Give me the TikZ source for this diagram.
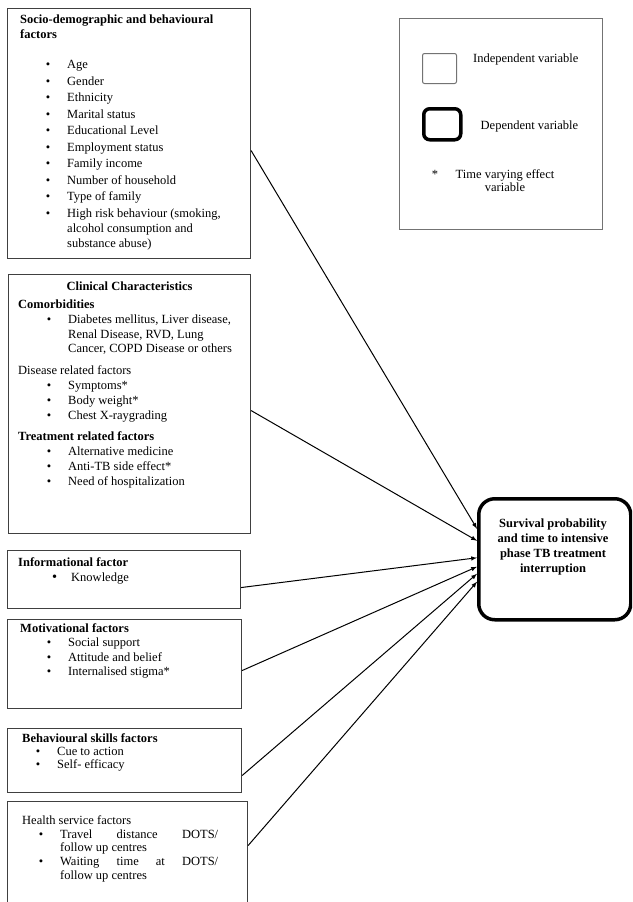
\documentclass[tikz,border=0pt]{standalone}
\usepackage{fontspec}
\setmainfont{Liberation Serif}
\usetikzlibrary{positioning,arrows}
\newcommand\hd[1]{\par\leftskip=0pt\noindent\textbf{#1}}
\newcommand\sh[1]{\par\leftskip=0pt\noindent#1}
\newcommand\bi[2][47pt]{\par\leftskip=#1\noindent\llap{\textbullet\hspace{17pt}}#2}
\tikzset{%
ibox/.style={draw=black!75,line width=1.1pt,anchor=north west,inner sep=0},
dbox/.style={draw,line width=3.5pt,rounded corners=16pt,anchor=north west,inner sep=0},
boxtext/.style={anchor=north west,inner sep=0},
link/.style={-latex,line width=1pt},
every node/.style={font=\fontsize{12.5}{15}\selectfont}
}
\begin{document}
\begin{tikzpicture}[x=1pt,y=-1pt]
  \useasboundingbox (0,0) rectangle (632,902);
  \clip (0,0) rectangle (632,902);

  % independent variables
  \node[ibox,minimum width=243pt,minimum height=250pt] (socio) at (7,8) {};
  \node[ibox,minimum width=242pt,minimum height=259pt] (clin) at (8,274) {};
  \node[ibox,minimum width=233pt,minimum height=58pt] (info) at (7,550) {};
  \node[ibox,minimum width=234pt,minimum height=89pt] (motiv) at (7,619) {};
  \node[ibox,minimum width=234pt,minimum height=64pt] (behav) at (7,728) {};
  \node[ibox,minimum width=240pt,minimum height=110pt] (health) at (7,801) {};

  \node[boxtext] (sociotxt) [below right=7pt and 13pt of socio.north west] {\parbox[t]{225pt}{\parskip=1.5pt
    \hd{Socio-demographic and behavioural\\factors}\par\vspace{13.5pt}
    \bi{Age}\bi{Gender}\bi{Ethnicity}\bi{Marital status}\bi{Educational Level}
    \bi{Employment status}\bi{Family income}\bi{Number of household}\bi{Type of family}
    \bi{High risk behaviour (smoking,\\alcohol consumption and\\substance abuse)}}};

  \node[font=\fontsize{12.5}{15}\selectfont\bfseries,inner sep=0] (clintitle) [below=8pt of clin.north] {Clinical Characteristics};
  \node[boxtext,font=\fontsize{12.5}{14.5}\selectfont] (clintxt) [below right=26pt and 10pt of clin.north west] {\parbox[t]{225pt}{\parskip=0.5pt
    \hd{Comorbidities}
    \bi[50pt]{Diabetes mellitus, Liver disease,\\Renal Disease, RVD, Lung\\Cancer, COPD Disease or others}\par\vspace{7pt}
    \sh{Disease related factors}
    \bi[50pt]{Symptoms*}\bi[50pt]{Body weight*}\bi[50pt]{Chest X-raygrading}\par\vspace{6pt}
    \hd{Treatment related factors}
    \bi[50pt]{Alternative medicine}\bi[50pt]{Anti-TB side effect*}\bi[50pt]{Need of hospitalization}}};

  \node[boxtext] (infotxt) [below right=7pt and 11pt of info.north west] {\parbox[t]{215pt}{
    \hd{Informational factor}
    \par\leftskip=53pt\noindent\llap{\Large\textbullet\hspace{14pt}}Knowledge}};

  \node[boxtext,font=\fontsize{12.5}{14}\selectfont] (motivtxt) [below right=4pt and 13pt of motiv.north west] {\parbox[t]{215pt}{\parskip=0.5pt
    \hd{Motivational factors}
    \bi[48pt]{Social support}\bi[48pt]{Attitude and belief}\bi[48pt]{Internalised stigma*}}};

  \node[boxtext,font=\fontsize{12.5}{13}\selectfont] (behavtxt) [below right=5pt and 15pt of behav.north west] {\parbox[t]{215pt}{
    \hd{Behavioural skills factors}
    \bi[35pt]{Cue to action}\bi[35pt]{Self- efficacy}}};

  \node[boxtext,font=\fontsize{12.5}{13.5}\selectfont] (healthtxt) [below right=14pt and 15pt of health.north west] {\parbox[t]{196pt}{\parskip=0.5pt
    \sh{Health service factors}
    \bi[38pt]{Travel\hfill distance\hfill DOTS/\\follow up centres}
    \bi[38pt]{Waiting\hfill time\hfill at\hfill DOTS/\\follow up centres}}};

  % dependent variable
  \node[dbox,minimum width=152pt,minimum height=121pt] (outcome) at (477,497) {};
  \node[font=\fontsize{12.5}{15}\selectfont\bfseries,align=center,inner sep=0] (outtxt) at (553,547) {Survival probability\\and time to intensive\\phase TB treatment\\interruption};

  % legend
  \node[ibox,draw=black!55,line width=1pt,minimum width=203pt,minimum height=211pt] (legend) at (399,18) {};
  \node[ibox,draw=black!55,line width=1pt,rounded corners=2pt,minimum width=34pt,minimum height=30pt] (indkey) [below right=35pt and 23pt of legend.north west] {};
  \node[dbox,rounded corners=6pt,minimum width=37pt,minimum height=31pt] (depkey) [below right=89pt and 23pt of legend.north west] {};
  \node[inner sep=0] (indlbl) [right=16pt of indkey,yshift=9pt] {Independent variable};
  \node[inner sep=0] (deplbl) [right=18pt of depkey,yshift=-2.5pt] {Dependent variable};
  \node[inner sep=0] (star) at (435,174) {*};
  \node[font=\fontsize{12.5}{13}\selectfont,align=center,inner sep=0] (tvlbl) at (505,181) {Time varying effect\\variable};

  \draw[link] ([yshift=-17pt]socio.east) -- ([yshift=30.5pt]outcome.west);
  \draw[link] ([yshift=-6.5pt]clin.east) -- ([yshift=18.5pt]outcome.west);
  \draw[link] ([yshift=-8pt]info.east) -- ([yshift=1.5pt]outcome.west);
  \draw[link] ([yshift=-6.5pt]motiv.east) -- ([yshift=-7.5pt]outcome.west);
  \draw[link] ([yshift=-15pt]behav.east) -- ([yshift=-14.5pt]outcome.west);
  \draw[link] ([yshift=11pt]health.east) -- ([yshift=-22.5pt]outcome.west);
\end{tikzpicture}
\end{document}
